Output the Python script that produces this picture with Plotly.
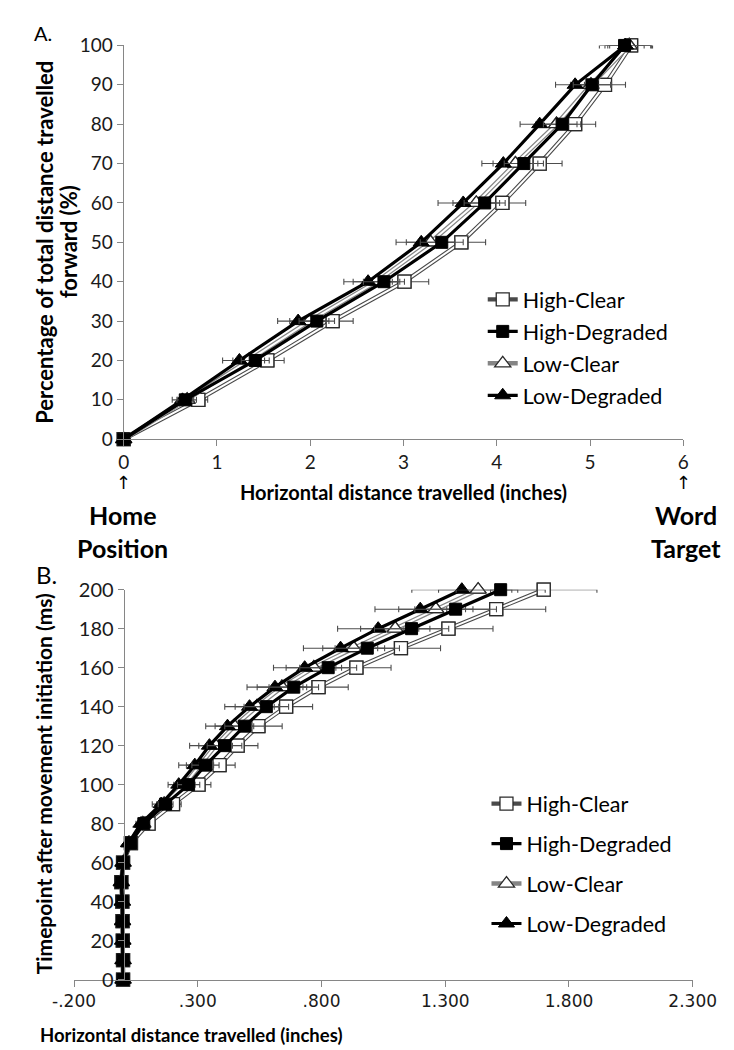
import plotly.graph_objects as go

# ---------------- Panel A data ----------------
pct_levels = [0, 10, 20, 30, 40, 50, 60, 70, 80, 90, 100]
a_high_clear = [0, 0.80, 1.54, 2.24, 3.01, 3.62, 4.06, 4.46, 4.84, 5.16, 5.44]
a_high_degraded = [0, 0.66, 1.41, 2.07, 2.79, 3.41, 3.87, 4.29, 4.70, 5.02, 5.37]
a_low_clear = [0, 0.68, 1.34, 1.99, 2.71, 3.29, 3.78, 4.20, 4.64, 5.01, 5.42]
a_low_degraded = [0, 0.63, 1.24, 1.87, 2.62, 3.19, 3.64, 4.07, 4.46, 4.84, 5.38]
a_err_high_clear = [0, 0.10, 0.18, 0.22, 0.26, 0.26, 0.25, 0.24, 0.22, 0.22, 0.23]
a_err_high_degraded = [0, 0.09, 0.15, 0.19, 0.22, 0.23, 0.22, 0.21, 0.20, 0.20, 0.21]
a_err_low_clear = [0, 0.10, 0.17, 0.21, 0.25, 0.26, 0.25, 0.24, 0.22, 0.22, 0.23]
a_err_low_degraded = [0, 0.11, 0.18, 0.22, 0.26, 0.27, 0.27, 0.23, 0.21, 0.21, 0.28]
a_x_ticks = [0, 1, 2, 3, 4, 5, 6]

# ---------------- Panel B data ----------------
time_levels = [0, 10, 20, 30, 40, 50, 60, 70, 80, 90, 100, 110, 120, 130, 140, 150, 160, 170, 180, 190, 200]
b_high_clear = [-0.002, -0.002, -0.003, -0.004, -0.005, -0.009, -0.002, 0.030, 0.101, 0.200, 0.303, 0.388, 0.461, 0.545, 0.657, 0.788, 0.941, 1.121, 1.313, 1.506, 1.698]
b_high_degraded = [-0.002, -0.002, -0.003, -0.004, -0.005, -0.009, -0.002, 0.028, 0.082, 0.170, 0.263, 0.331, 0.408, 0.489, 0.577, 0.688, 0.827, 0.985, 1.164, 1.342, 1.524]
b_low_clear = [-0.002, -0.002, -0.003, -0.004, -0.005, -0.009, -0.002, 0.022, 0.078, 0.164, 0.246, 0.309, 0.372, 0.448, 0.539, 0.640, 0.769, 0.930, 1.098, 1.262, 1.433]
b_low_degraded = [-0.002, -0.002, -0.003, -0.004, -0.005, -0.009, -0.002, 0.020, 0.070, 0.152, 0.223, 0.288, 0.347, 0.420, 0.509, 0.612, 0.732, 0.877, 1.029, 1.199, 1.367]
b_err_high_clear = [0.003, 0.003, 0.003, 0.003, 0.003, 0.003, 0.003, 0.010, 0.020, 0.033, 0.050, 0.063, 0.082, 0.096, 0.107, 0.120, 0.140, 0.160, 0.180, 0.200, 0.215]
b_err_high_degraded = [0.003, 0.003, 0.003, 0.003, 0.003, 0.003, 0.003, 0.010, 0.018, 0.030, 0.045, 0.055, 0.070, 0.080, 0.090, 0.100, 0.115, 0.130, 0.150, 0.165, 0.180]
b_err_low_clear = [0.003, 0.003, 0.003, 0.003, 0.003, 0.003, 0.003, 0.010, 0.018, 0.030, 0.043, 0.055, 0.068, 0.078, 0.088, 0.100, 0.112, 0.125, 0.140, 0.150, 0.160]
b_err_low_degraded = [0.003, 0.003, 0.003, 0.003, 0.003, 0.003, 0.003, 0.010, 0.020, 0.036, 0.043, 0.065, 0.080, 0.088, 0.100, 0.113, 0.126, 0.150, 0.164, 0.183, 0.202]
b_tick_vals = [-0.2, 0.3, 0.8, 1.3, 1.8, 2.3]
b_tick_text = ["-.200", ".300", ".800", "1.300", "1.800", "2.300"]

series_names = ["High-Clear", "High-Degraded", "Low-Clear", "Low-Degraded"]

# ---------------- styles ----------------
W, H = 734, 1050
def px_x(p):
    return p / W
def px_y(p):
    return 1 - p / H

styles = {
    "High-Clear": dict(double=True, outer="#4a4a4a", outer_w=4.2, inner_w=2.0,
                        marker=dict(symbol="square", size=13, color="white",
                                    line=dict(color="#2b2b2b", width=1.3)), rank=1),
    "High-Degraded": dict(double=False, color="black", width=3.2,
                          marker=dict(symbol="square", size=12, color="black",
                                      line=dict(color="black", width=1)), rank=2),
    "Low-Clear": dict(double=True, outer="#858585", outer_w=4.5, inner_w=2.0,
                      marker=dict(symbol="triangle-up", size=14, color="white",
                                  line=dict(color="#2b2b2b", width=1.3)), rank=3),
    "Low-Degraded": dict(double=False, color="black", width=3.2,
                         marker=dict(symbol="triangle-up", size=14, color="black",
                                     line=dict(color="black", width=1)), rank=4),
}
draw_order = ["High-Clear", "Low-Clear", "Low-Degraded", "High-Degraded"]

fig = go.Figure()

def add_panel(xvals, yvals, errs, xa, ya, legend_name):
    for name in draw_order:
        st = styles[name]
        x = xvals[name]
        err = dict(type="data", array=errs[name], visible=True, color="#4d4d4d",
                   thickness=1.1, width=3)
        if st["double"]:
            fig.add_trace(go.Scatter(
                x=x, y=yvals, mode="lines+markers", name=name,
                line=dict(color=st["outer"], width=st["outer_w"]),
                marker=st["marker"], xaxis=xa, yaxis=ya, legend=legend_name,
                legendgroup=legend_name + name, legendrank=st["rank"],
                cliponaxis=False, hoverinfo="skip"))
            fig.add_trace(go.Scatter(
                x=x, y=yvals, mode="lines", showlegend=False,
                line=dict(color="white", width=st["inner_w"]),
                xaxis=xa, yaxis=ya, legendgroup=legend_name + name,
                cliponaxis=False, hoverinfo="skip"))
            fig.add_trace(go.Scatter(
                x=x, y=yvals, mode="markers", showlegend=False,
                marker=st["marker"], error_x=err, xaxis=xa, yaxis=ya,
                legendgroup=legend_name + name, cliponaxis=False))
        else:
            fig.add_trace(go.Scatter(
                x=x, y=yvals, mode="lines+markers", name=name,
                line=dict(color=st["color"], width=st["width"]),
                marker=st["marker"], error_x=err, xaxis=xa, yaxis=ya,
                legend=legend_name, legendgroup=legend_name + name,
                legendrank=st["rank"], cliponaxis=False))

add_panel(
    {"High-Clear": a_high_clear, "High-Degraded": a_high_degraded,
     "Low-Clear": a_low_clear, "Low-Degraded": a_low_degraded},
    pct_levels,
    {"High-Clear": a_err_high_clear, "High-Degraded": a_err_high_degraded,
     "Low-Clear": a_err_low_clear, "Low-Degraded": a_err_low_degraded},
    "x", "y", "legend")

add_panel(
    {"High-Clear": b_high_clear, "High-Degraded": b_high_degraded,
     "Low-Clear": b_low_clear, "Low-Degraded": b_low_degraded},
    time_levels,
    {"High-Clear": b_err_high_clear, "High-Degraded": b_err_high_degraded,
     "Low-Clear": b_err_low_clear, "Low-Degraded": b_err_low_degraded},
    "x2", "y2", "legend2")

axis_common = dict(showline=True, linecolor="#868686", linewidth=1.2, showgrid=False,
                   zeroline=False, ticks="outside", ticklen=6, tickcolor="#868686",
                   tickwidth=1.2)
calibri = "Lato, 'Open Sans', sans-serif"

fig.update_layout(
    width=W, height=H, margin=dict(l=0, r=0, t=0, b=0),
    paper_bgcolor="white", plot_bgcolor="white",
    font=dict(family=calibri, color="black"),
    xaxis=dict(domain=[px_x(100), px_x(697)], range=[0, 6], anchor="y",
               tickvals=a_x_ticks, tickfont=dict(size=19, family=calibri, color="#1a1a1a"),
               **axis_common),
    yaxis=dict(domain=[px_y(428), px_y(25)], range=[0, 100], anchor="x", dtick=10,
               tickfont=dict(size=19, family=calibri, color="#1a1a1a"), **axis_common),
    xaxis2=dict(domain=[px_x(47), px_x(707)], range=[-0.2, 2.3], anchor="y2",
                tickvals=b_tick_vals, ticktext=b_tick_text,
                tickfont=dict(size=17, family="DejaVu Sans", color="#1a1a1a"), **axis_common),
    yaxis2=dict(domain=[px_y(981), px_y(582)], range=[0, 200], anchor="free",
                position=px_x(100), dtick=20,
                tickfont=dict(size=20, family=calibri, color="#1a1a1a"), **axis_common),
    legend=dict(x=px_x(483), y=px_y(264), xanchor="left", yanchor="top",
                traceorder="grouped", tracegroupgap=1, itemwidth=30,
                font=dict(size=21.5, family=calibri), bgcolor="rgba(0,0,0,0)"),
    legend2=dict(x=px_x(487), y=px_y(780), xanchor="left", yanchor="top",
                 traceorder="grouped", tracegroupgap=9, itemwidth=30,
                 font=dict(size=21.5, family=calibri), bgcolor="rgba(0,0,0,0)"),
    showlegend=True,
)

def ann(text, x, y, size, bold=False, angle=0, xanchor="center", yanchor="middle", family=calibri):
    if bold:
        text = "<b>" + text + "</b>"
    fig.add_annotation(text=text, x=px_x(x), y=px_y(y), xref="paper", yref="paper",
                       showarrow=False, textangle=angle, xanchor=xanchor, yanchor=yanchor,
                       font=dict(size=size, family=family, color="black"))

ann("A.", 2, 12, 20, xanchor="left")
ann("B.", 4, 566, 24, xanchor="left")
ann("Percentage of total distance travelled", 16, 226, 22, bold=True, angle=-90)
ann("forward (%)", 41, 226, 22, bold=True, angle=-90)
ann("Horizontal distance travelled (inches)", 399, 482, 20, bold=True)
ann("↑", 100, 472, 18, family="DejaVu Sans")
ann("↑", 697, 472, 18, family="DejaVu Sans")
ann("Home", 99, 506, 25, bold=True)
ann("Position", 99, 539, 25, bold=True)
ann("Word", 700, 506, 25, bold=True)
ann("Target", 700, 539, 25, bold=True)
ann("Timepoint after movement initiation (ms)", 14, 781, 21, bold=True, angle=-90)
ann("Horizontal distance travelled (inches)", 172, 1038, 18.5, bold=True)

fig.write_html("out.html")
